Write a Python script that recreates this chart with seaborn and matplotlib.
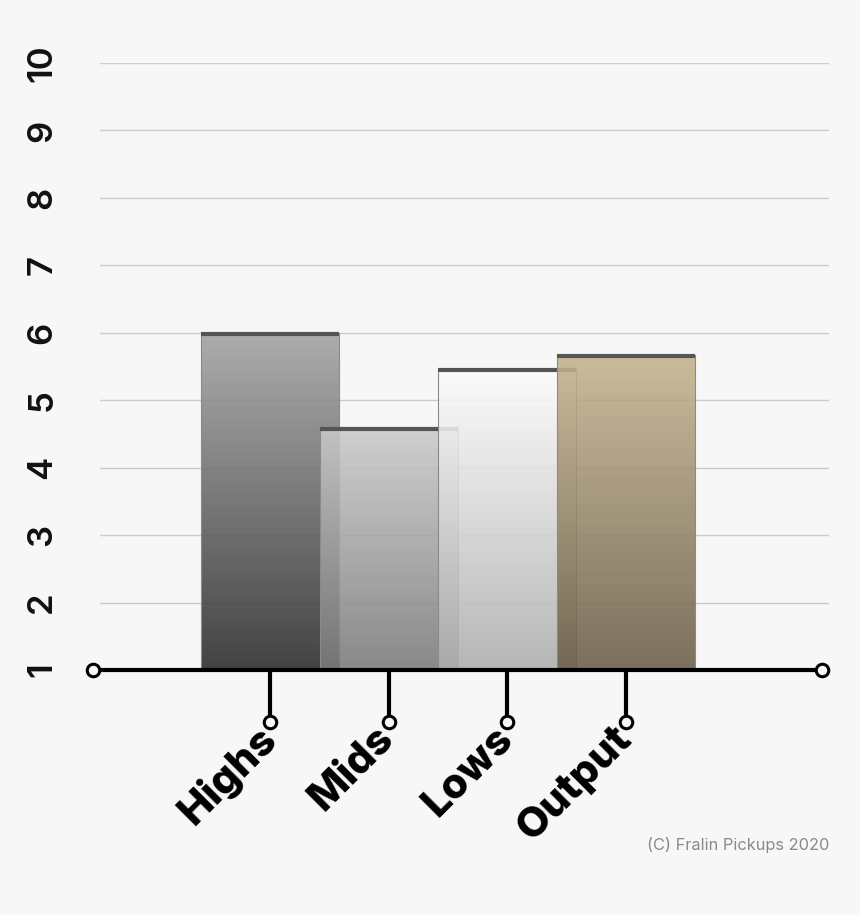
import numpy as np
import pandas as pd
import matplotlib
matplotlib.use("Agg")
import matplotlib.pyplot as plt
import seaborn as sns
from matplotlib.colors import LinearSegmentedColormap

categories = ["Highs", "Mids", "Lows", "Output"]
values = [6.0, 4.6, 5.47, 5.67]
top_colors = ["#a3a3a3", "#cbcbcb", "#fdfdfd", "#c4b38e"]
bottom_colors = ["#2a2a2a", "#7a7a7a", "#aeaeae", "#6a5e48"]
y_ticks = [1, 2, 3, 4, 5, 6, 7, 8, 9, 10]

BG = "#f7f7f7"
sns.set_theme(style="white")
plt.rcParams["font.family"] = ["Inter", "DejaVu Sans"]

fig = plt.figure(figsize=(8.6, 9.15), dpi=100, facecolor=BG)
ax = fig.add_axes([100 / 860, 1 - 670 / 915, 729 / 860, 607 / 915])
ax.set_facecolor(BG)

df = pd.DataFrame({"cat": categories, "val": values})
sns.barplot(data=df, x="cat", y="val", ax=ax, width=1.163, color="white",
            edgecolor="#8a8a8a", linewidth=0.8, zorder=3)

ax.set_ylim(1, 10)
ax.set_xlim(-1.432, 4.709)

for i, p in enumerate(ax.patches):
    x0 = p.get_x()
    w = p.get_width()
    h = p.get_height()
    cmap = LinearSegmentedColormap.from_list("g", [bottom_colors[i], top_colors[i]])
    grad = np.linspace(0, 1, 256).reshape(-1, 1)
    im = ax.imshow(grad, cmap=cmap, aspect="auto", origin="lower",
                   extent=[x0, x0 + w, 1, h], zorder=3 + i * 0.1, alpha=0.88)
    im.set_clip_path(p)
    p.set_facecolor("none")
    p.set_zorder(3.05 + i * 0.1)
    ax.hlines(h - 0.02, x0, x0 + w, color="#555555", lw=3, zorder=3.08 + i * 0.1)

ax.set_xlim(-1.432, 4.709)
ax.set_ylim(1, 10)

ax.set_yticks(y_ticks)
ax.set_yticklabels([str(t) for t in y_ticks], rotation=90, va="center",
                   fontsize=25, fontweight="semibold", color="#111111")
ax.tick_params(axis="y", length=0, pad=30)
ax.yaxis.grid(True, color="#cccccc", lw=1)
ax.set_axisbelow(True)
for s in ax.spines.values():
    s.set_visible(False)

ax.set_xticks([])
ax.set_xlabel("")
ax.set_ylabel("")

# baseline axis with open circles
ax.plot([-0.0096, 0.990], [0, 0], transform=ax.transAxes, color="black",
        lw=3, clip_on=False, zorder=6, solid_capstyle="butt")
ax.plot([-0.0096, 0.990], [0, 0], transform=ax.transAxes, ls="none", marker="o",
        ms=9, mfc=BG, mec="black", mew=2.2, clip_on=False, zorder=7)

# hanging ticks and labels
for i, c in enumerate(categories):
    ax.plot([i, i], [1, 0.23], color="black", lw=3, clip_on=False, zorder=6)
    ax.plot([i], [0.23], ls="none", marker="o", ms=9, mfc=BG, mec="black",
            mew=2.2, clip_on=False, zorder=7)
    ax.annotate(c, xy=(i, 0.23), xytext=(-10, 2), textcoords="offset points",
                rotation=45, rotation_mode="anchor", ha="right", va="top",
                fontsize=30, fontweight="heavy", color="black",
                annotation_clip=False)

fig.text(829 / 860, 1 - 845 / 915, "(C) Fralin Pickups 2020", ha="right",
         va="center", fontsize=11.8, color="#8a8a8a", fontweight="normal")

fig.savefig("out.png", dpi=100, facecolor=BG)
